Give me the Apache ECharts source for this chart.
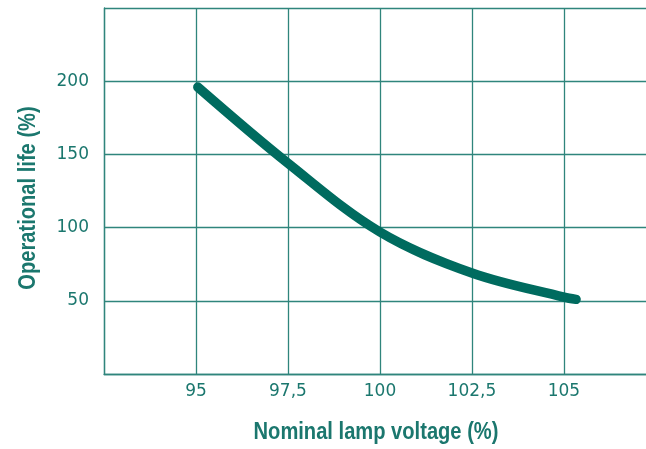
<!DOCTYPE html>
<html>
<head>
<meta charset="utf-8">
<script src="https://cdn.jsdelivr.net/npm/echarts@6/dist/echarts.min.js"></script>
<style>
  html, body { margin: 0; padding: 0; background: #fff; }
  #main { width: 646px; height: 449px; }
</style>
</head>
<body>
<div id="main"></div>
<script>
// voltage (%) vs operational life (%)
var voltage = [95.05, 97.5, 100, 102.5, 105, 105.33];
var life = [196, 144, 97, 69, 52.5, 51];
var xLabels = { 95: '95', 97.5: '97,5', 100: '100', 102.5: '102,5', 105: '105' };
var yLabels = [50, 100, 150, 200];
var xTitle = 'Nominal lamp voltage (%)';
var yTitle = 'Operational life (%)';

var teal = '#1b776e';
var lineCol = '#2f857c';
var titleFont = { fill: teal, font: 'bold 23px "Liberation Sans", Arial, sans-serif', align: 'center', verticalAlign: 'middle' };

var chart = echarts.init(document.getElementById('main'), null, { renderer: 'canvas' });
chart.setOption({
  animation: false,
  grid: { left: 104, right: 0, top: 8, bottom: 75, containLabel: false },
  xAxis: {
    type: 'value',
    min: 92.5, max: 107.23, interval: 2.5,
    axisLine: { show: true, lineStyle: { color: lineCol, width: 1.3 } },
    axisTick: { show: false },
    splitLine: { show: true, showMaxLine: false, lineStyle: { color: lineCol, width: 1.3 } },
    axisLabel: {
      color: teal, fontSize: 17, fontFamily: 'DejaVu Sans, sans-serif', margin: 9,
      showMinLabel: false, showMaxLabel: false,
      formatter: function (v) { return xLabels[v] || ''; }
    }
  },
  yAxis: {
    type: 'value',
    min: 0, max: 250, interval: 50,
    axisLine: { show: true, lineStyle: { color: lineCol, width: 1.3 } },
    axisTick: { show: false },
    splitLine: { show: true, lineStyle: { color: lineCol, width: 1.3 } },
    axisLabel: {
      color: teal, fontSize: 17, fontFamily: 'DejaVu Sans, sans-serif', margin: 15,
      formatter: function (v) { return yLabels.indexOf(v) >= 0 ? String(v) : ''; }
    }
  },
  graphic: [
    { type: 'text', x: 376, y: 433, scaleX: 0.875, style: Object.assign({ text: xTitle }, titleFont) },
    { type: 'text', x: 29, y: 198, rotation: Math.PI / 2, scaleX: 0.875, style: Object.assign({ text: yTitle }, titleFont) }
  ],
  series: [{
    type: 'line',
    data: voltage.map(function (v, i) { return [v, life[i]]; }),
    smooth: 0.35,
    showSymbol: false,
    lineStyle: { color: '#006b5f', width: 9.5, cap: 'round', join: 'round' }
  }]
});
</script>
</body>
</html>
